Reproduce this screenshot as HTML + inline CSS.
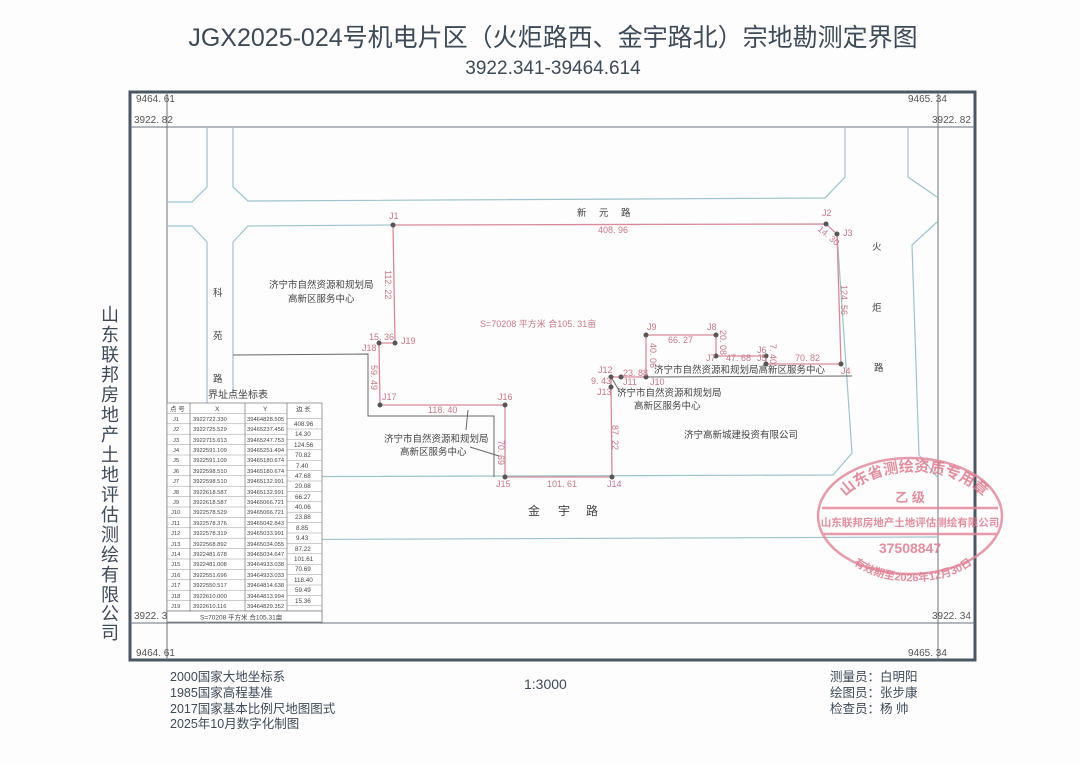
<!DOCTYPE html>
<html><head><meta charset="utf-8"><style>
body{margin:0;background:#fff;}
svg text{font-family:"Liberation Sans","Noto Sans CJK SC",sans-serif;}
</style></head><body>
<svg width="1080" height="763" viewBox="0 0 1080 763" xmlns="http://www.w3.org/2000/svg">
<rect width="1080" height="763" fill="#fdfdfd"/>
<text x="553" y="46" font-size="25" fill="#3d4a58" text-anchor="middle">JGX2025-024号机电片区（火炬路西、金宇路北）宗地勘测定界图</text>
<text x="553" y="74" font-size="19" fill="#3d4a58" text-anchor="middle">3922.341-39464.614</text>
<g font-size="18" fill="#3d4a58" text-anchor="middle">
<text x="110" y="321">山</text><text x="110" y="341">东</text><text x="110" y="361">联</text><text x="110" y="381">邦</text><text x="110" y="401">房</text><text x="110" y="421">地</text><text x="110" y="441">产</text><text x="110" y="461">土</text><text x="110" y="481">地</text><text x="110" y="501">评</text><text x="110" y="521">估</text><text x="110" y="541">测</text><text x="110" y="561">绘</text><text x="110" y="581">有</text><text x="110" y="601">限</text><text x="110" y="620">公</text><text x="110" y="639">司</text>
</g>
<rect x="130" y="92" width="845" height="568" fill="none" stroke="#4a5664" stroke-width="3"/>
<g stroke="#6a7480" stroke-width="1" fill="none">
<line x1="130" y1="127" x2="975" y2="127"/>
<line x1="130" y1="623" x2="975" y2="623"/>
<line x1="167" y1="92" x2="167" y2="660"/>
<line x1="938" y1="92" x2="938" y2="660"/>
</g>
<g font-size="10" fill="#555">
<text x="136" y="102">9464. 61</text><text x="134" y="123">3922. 82</text>
<text x="908" y="102">9465. 34</text><text x="932" y="123">3922. 82</text>
<text x="134" y="619">3922. 34</text><text x="932" y="619">3922. 34</text>
<text x="136" y="656">9464. 61</text><text x="908" y="656">9465. 34</text>
</g>
<g stroke="#9cc4cc" stroke-width="1.2" fill="none">
<polyline points="167,202 192,202 207,187 207,127"/>
<polyline points="233,127 233,187 248,201 825,198 845,177 845,127"/>
<polyline points="167,226 192,226 207,242 207,623"/>
<polyline points="233,395 233,242 248,226 393,225"/>
<polyline points="837,234 852,453 833,475 168,477"/>
<polyline points="908,127 908,177 937,197"/>
<polyline points="937,222 912,245 919,455 938,478"/>
<polyline points="168,540 938,537"/>
</g>
<g stroke="#666" stroke-width="1" fill="none">
<polyline points="233,355 368,354 368,416 494,416 494,477"/>
<line x1="646" y1="377" x2="852" y2="376"/>
<line x1="468" y1="410" x2="466" y2="430"/>
<line x1="470" y1="447" x2="499" y2="456"/>
<line x1="611" y1="377" x2="620" y2="392"/>
</g>
<polygon points="393,225 826,224 837,234 841,364 766,364 766,356 716,356 716,335 646,335 646,377 621,377 611,377 611,387 612,477 505,477 505,405 380,405 379,343 395,343" fill="none" stroke="#d98a98" stroke-width="1.3"/>
<g fill="#555">
<circle cx="393" cy="225" r="2.5"/><circle cx="826" cy="224" r="2.5"/><circle cx="837" cy="234" r="2.5"/><circle cx="841" cy="364" r="2.5"/><circle cx="766" cy="364" r="2.5"/><circle cx="766" cy="356" r="2.5"/><circle cx="716" cy="356" r="2.5"/><circle cx="716" cy="335" r="2.5"/><circle cx="646" cy="335" r="2.5"/><circle cx="646" cy="377" r="2.5"/><circle cx="621" cy="377" r="2.5"/><circle cx="611" cy="377" r="2.5"/><circle cx="611" cy="387" r="2.5"/><circle cx="612" cy="477" r="2.5"/><circle cx="505" cy="477" r="2.5"/><circle cx="505" cy="405" r="2.5"/><circle cx="380" cy="405" r="2.5"/><circle cx="379" cy="343" r="2.5"/><circle cx="395" cy="343" r="2.5"/>
</g>
<g font-size="9" fill="#c87888" font-family="Liberation Serif">
<text x="389" y="219">J1</text><text x="822" y="216">J2</text><text x="843" y="236">J3</text><text x="841" y="374">J4</text><text x="757" y="361">J5</text><text x="757" y="353">J6</text><text x="706" y="361">J7</text><text x="707" y="330">J8</text><text x="647" y="330">J9</text><text x="650" y="385">J10</text><text x="623" y="385">J11</text><text x="598" y="373">J12</text><text x="597" y="395">J13</text><text x="607" y="487">J14</text><text x="496" y="487">J15</text><text x="498" y="400">J16</text><text x="382" y="400">J17</text><text x="362" y="351">J18</text><text x="401" y="344">J19</text>
<text x="598" y="233">408. 96</text><text x="668" y="343">66. 27</text><text x="726" y="361">47. 68</text><text x="795" y="361">70. 82</text><text x="623" y="376">23. 88</text><text x="591" y="384">9. 43</text><text x="428" y="413">118. 40</text><text x="547" y="487">101. 61</text><text x="369" y="340">15. 36</text>
<text x="480" y="327">S=70208  平方米  合105. 31亩</text>
</g>
<g font-size="9" fill="#c87888" font-family="Liberation Serif">
<text transform="translate(385,270) rotate(90)">112. 22</text>
<text transform="translate(841,285) rotate(90)">124. 56</text>
<text transform="translate(498,440) rotate(90)">70. 69</text>
<text transform="translate(612,425) rotate(90)">87. 22</text>
<text transform="translate(650,343) rotate(90)">40. 06</text>
<text transform="translate(720,330) rotate(90)">20. 08</text>
<text transform="translate(371,365) rotate(90)">59. 49</text>
<text transform="translate(770,344) rotate(90)">7. 40</text>
<text transform="translate(817,230) rotate(40)">14. 30</text>
</g>
<g font-size="9.5" fill="#444">
<text x="577" y="216">新</text><text x="599" y="216">元</text><text x="621" y="216">路</text>
<text x="213" y="296">科</text><text x="213" y="339">苑</text><text x="213" y="382">路</text>
<text x="872" y="250">火</text><text x="872" y="311">炬</text><text x="874" y="371">路</text>
<text x="269" y="288">济宁市自然资源和规划局</text><text x="288" y="302">高新区服务中心</text>
<text x="384" y="442">济宁市自然资源和规划局</text><text x="400" y="455">高新区服务中心</text>
<text x="654" y="373">济宁市自然资源和规划局高新区服务中心</text>
<text x="617" y="396">济宁市自然资源和规划局</text><text x="634" y="409">高新区服务中心</text>
<text x="684" y="438">济宁高新城建投资有限公司</text>
</g>
<g font-size="12" fill="#444"><text x="528" y="515">金</text><text x="558" y="515">宇</text><text x="586" y="515">路</text></g>
<rect x="167" y="403" width="155" height="219" fill="#fff"/>
<text x="208" y="398" font-size="10" fill="#444">界址点坐标表</text>
<g stroke="#777" stroke-width="0.7" fill="none">
<rect x="167" y="403" width="155" height="219"/>
<line x1="190" y1="403" x2="190" y2="611"/><line x1="245" y1="403" x2="245" y2="611"/><line x1="287" y1="403" x2="287" y2="611"/>
<line x1="167" y1="611" x2="322" y2="611"/>
</g>
<g stroke="#999" stroke-width="0.5">
<line x1="167" y1="413.4" x2="287" y2="413.4"/><line x1="167" y1="423.8" x2="287" y2="423.8"/><line x1="167" y1="434.2" x2="287" y2="434.2"/><line x1="167" y1="444.6" x2="287" y2="444.6"/><line x1="167" y1="455" x2="287" y2="455"/><line x1="167" y1="465.4" x2="287" y2="465.4"/><line x1="167" y1="475.8" x2="287" y2="475.8"/><line x1="167" y1="486.2" x2="287" y2="486.2"/><line x1="167" y1="496.6" x2="287" y2="496.6"/><line x1="167" y1="507" x2="287" y2="507"/><line x1="167" y1="517.4" x2="287" y2="517.4"/><line x1="167" y1="527.8" x2="287" y2="527.8"/><line x1="167" y1="538.2" x2="287" y2="538.2"/><line x1="167" y1="548.6" x2="287" y2="548.6"/><line x1="167" y1="559" x2="287" y2="559"/><line x1="167" y1="569.4" x2="287" y2="569.4"/><line x1="167" y1="579.8" x2="287" y2="579.8"/><line x1="167" y1="590.2" x2="287" y2="590.2"/><line x1="167" y1="600.6" x2="287" y2="600.6"/>
<line x1="287" y1="418.6" x2="322" y2="418.6"/><line x1="287" y1="429" x2="322" y2="429"/><line x1="287" y1="439.4" x2="322" y2="439.4"/><line x1="287" y1="449.8" x2="322" y2="449.8"/><line x1="287" y1="460.2" x2="322" y2="460.2"/><line x1="287" y1="470.6" x2="322" y2="470.6"/><line x1="287" y1="481" x2="322" y2="481"/><line x1="287" y1="491.4" x2="322" y2="491.4"/><line x1="287" y1="501.8" x2="322" y2="501.8"/><line x1="287" y1="512.2" x2="322" y2="512.2"/><line x1="287" y1="522.6" x2="322" y2="522.6"/><line x1="287" y1="533" x2="322" y2="533"/><line x1="287" y1="543.4" x2="322" y2="543.4"/><line x1="287" y1="553.8" x2="322" y2="553.8"/><line x1="287" y1="564.2" x2="322" y2="564.2"/><line x1="287" y1="574.6" x2="322" y2="574.6"/><line x1="287" y1="585" x2="322" y2="585"/><line x1="287" y1="595.4" x2="322" y2="595.4"/><line x1="287" y1="605.8" x2="322" y2="605.8"/>
</g>
<g font-size="6.5" fill="#444">
<text x="170" y="411">点 号</text><text x="215" y="411">X</text><text x="263" y="411">Y</text><text x="296" y="411">边 长</text>
</g>
<g font-size="5.8" fill="#444">
<text x="173" y="421">J1</text><text x="193" y="421">3922722.330</text><text x="247" y="421">39464828.505</text>
<text x="173" y="431">J2</text><text x="193" y="431">3922725.529</text><text x="247" y="431">39465237.456</text>
<text x="173" y="442">J3</text><text x="193" y="442">3922715.613</text><text x="247" y="442">39465247.753</text>
<text x="173" y="452">J4</text><text x="193" y="452">3922591.109</text><text x="247" y="452">39465251.494</text>
<text x="173" y="462">J5</text><text x="193" y="462">3922591.109</text><text x="247" y="462">39465180.674</text>
<text x="173" y="473">J6</text><text x="193" y="473">3922598.510</text><text x="247" y="473">39465180.674</text>
<text x="173" y="483">J7</text><text x="193" y="483">3922598.510</text><text x="247" y="483">39465132.991</text>
<text x="173" y="494">J8</text><text x="193" y="494">3922618.587</text><text x="247" y="494">39465132.991</text>
<text x="173" y="504">J9</text><text x="193" y="504">3922618.587</text><text x="247" y="504">39465066.721</text>
<text x="171" y="514">J10</text><text x="193" y="514">3922578.529</text><text x="247" y="514">39465066.721</text>
<text x="171" y="525">J11</text><text x="193" y="525">3922578.376</text><text x="247" y="525">39465042.843</text>
<text x="171" y="535">J12</text><text x="193" y="535">3922578.319</text><text x="247" y="535">39465033.991</text>
<text x="171" y="546">J13</text><text x="193" y="546">3922568.892</text><text x="247" y="546">39465034.055</text>
<text x="171" y="556">J14</text><text x="193" y="556">3922481.678</text><text x="247" y="556">39465034.647</text>
<text x="171" y="566">J15</text><text x="193" y="566">3922481.008</text><text x="247" y="566">39464933.038</text>
<text x="171" y="577">J16</text><text x="193" y="577">3922551.696</text><text x="247" y="577">39464933.033</text>
<text x="171" y="587">J17</text><text x="193" y="587">3922550.517</text><text x="247" y="587">39464814.638</text>
<text x="171" y="598">J18</text><text x="193" y="598">3922610.000</text><text x="247" y="598">39464813.994</text>
<text x="171" y="608">J19</text><text x="193" y="608">3922610.116</text><text x="247" y="608">39464829.352</text>
</g>
<g font-size="6.3" fill="#444">
<text x="294" y="426">408.96</text><text x="295" y="436">14.30</text><text x="294" y="447">124.56</text><text x="295" y="457">70.82</text><text x="296" y="468">7.40</text><text x="295" y="478">47.68</text><text x="295" y="488">20.08</text><text x="295" y="499">66.27</text><text x="295" y="509">40.06</text><text x="295" y="519">23.88</text><text x="296" y="530">8.85</text><text x="296" y="540">9.43</text><text x="295" y="551">87.22</text><text x="294" y="561">101.61</text><text x="295" y="571">70.69</text><text x="294" y="582">118.40</text><text x="295" y="592">59.49</text><text x="295" y="603">15.36</text>
</g>
<rect x="167" y="611" width="155" height="11" fill="#fff" stroke="#777" stroke-width="0.7"/>
<text x="200" y="619.5" font-size="6.5" fill="#444">S=70208  平方米  合105.31亩</text>
<defs>
<path id="arcTop" d="M836,512 A80,52 0 0 1 992,512"/>
<path id="arcBot" d="M842,548 A72,40 0 0 0 984,548"/>
</defs>
<g fill="none" stroke="#e48a9c" stroke-width="2.5" opacity="0.85">
<ellipse cx="910" cy="516" rx="92" ry="58"/>
<line x1="822" y1="508" x2="998" y2="508"/><line x1="822" y1="534" x2="998" y2="534"/>
</g>
<g fill="#e07a8e" opacity="0.85" font-weight="bold">
<text font-size="15"><textPath href="#arcTop" startOffset="50%" text-anchor="middle">山东省测绘资质专用章</textPath></text>
<text x="910" y="502" font-size="13" text-anchor="middle">乙 级</text>
<text x="910" y="526" font-size="10.5" text-anchor="middle">山东联邦房地产土地评估测绘有限公司</text>
<text x="910" y="553" font-size="14" text-anchor="middle">37508847</text>
<text font-size="11"><textPath href="#arcBot" startOffset="50%" text-anchor="middle">有效期至2026年12月30日</textPath></text>
</g>
<g font-size="12.5" fill="#3d4a58">
<text x="170" y="681">2000国家大地坐标系</text>
<text x="170" y="697">1985国家高程基准</text>
<text x="170" y="713">2017国家基本比例尺地图图式</text>
<text x="170" y="728">2025年10月数字化制图</text>
<text x="524" y="689" font-size="14">1:3000</text>
<text x="830" y="681">测量员：白明阳</text>
<text x="830" y="697">绘图员：张步康</text>
<text x="830" y="713">检查员：杨  帅</text>
</g>
</svg>
</body></html>
